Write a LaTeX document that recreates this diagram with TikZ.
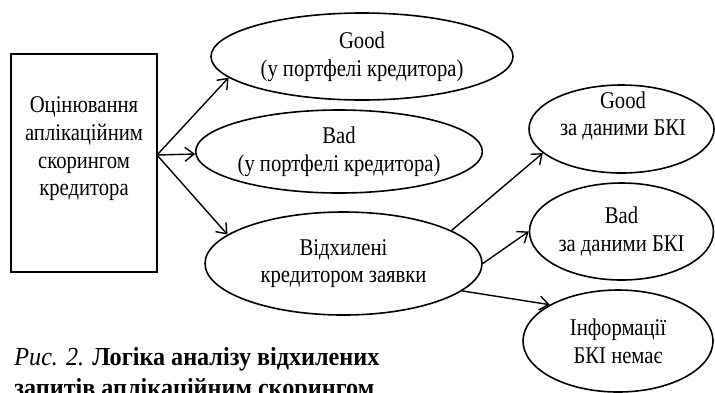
\documentclass[tikz,border=0pt]{standalone}
\usepackage{fontspec}
\setmainfont{Liberation Serif}[FakeStretch=0.86]
\newfontfamily\capfont{Liberation Serif}[FakeStretch=0.93]
\usetikzlibrary{arrows.meta,shapes.geometric}

\tikzset{
  oval/.style={ellipse,draw,line width=0.8pt,inner sep=0pt,align=center,font=\fontsize{12}{13.8}\selectfont},
  txt/.style={align=center,font=\fontsize{12}{13.8}\selectfont},
  arr/.style={-{Straight Barb[length=4.5pt,width=7pt]},line width=0.7pt}
}

\begin{document}
\begin{tikzpicture}[x=0.5pt,y=-0.5pt]
\useasboundingbox (0,0) rectangle (715,392);
\node (box) at (84,163) [draw,line width=0.8pt,minimum width=73pt,minimum height=109pt] {};
\node (boxtxt) at (84,149) [txt] {Оцінювання\\аплікаційним\\скорингом\\кредитора};
\node (good) at (362,56.5) [oval,minimum width=151pt,minimum height=43.5pt] {Good\\(у портфелі кредитора)};
\node (bad) at (339,151.5) [oval,minimum width=142pt,minimum height=41.5pt] {Bad\\(у портфелі кредитора)};
\node (otk) at (343.5,263.5) [oval,minimum width=138.5pt,minimum height=51.5pt] {Відхилені\\кредитором заявки};
\node (gbki) at (621.5,129) [oval,minimum width=92.5pt,minimum height=44pt] {};
\node (gbkitxt) at (623,116) [txt] {Good\\за даними БКІ};
\node (bbki) at (621.5,231.5) [oval,minimum width=92pt,minimum height=48.5pt] {Bad\\за даними БКІ};
\node (info) at (618,341) [oval,minimum width=95pt,minimum height=51pt] {Інформації\\БКІ немає};
% caption, second line runs off the bottom edge
\node (cap) at (14,396) [anchor=base west,align=left,inner sep=0pt,font=\capfont\fontsize{13}{15.5}\selectfont] {\textit{Рис. 2.} \textbf{Логіка аналізу відхилених}\\\textbf{запитів аплікаційним скорингом}};
\coordinate (src) at (157,155);
\draw[arr] (src) -- (good.189);
\draw[arr] (src) -- (bad.181);
\draw[arr] (src) -- (otk.166);
\draw[arr] (otk.17) -- (gbki.197);
\draw[arr] (otk.east) -- (bbki.west);
\draw[arr] (otk.-13) -- (info.152);
\end{tikzpicture}
\end{document}
